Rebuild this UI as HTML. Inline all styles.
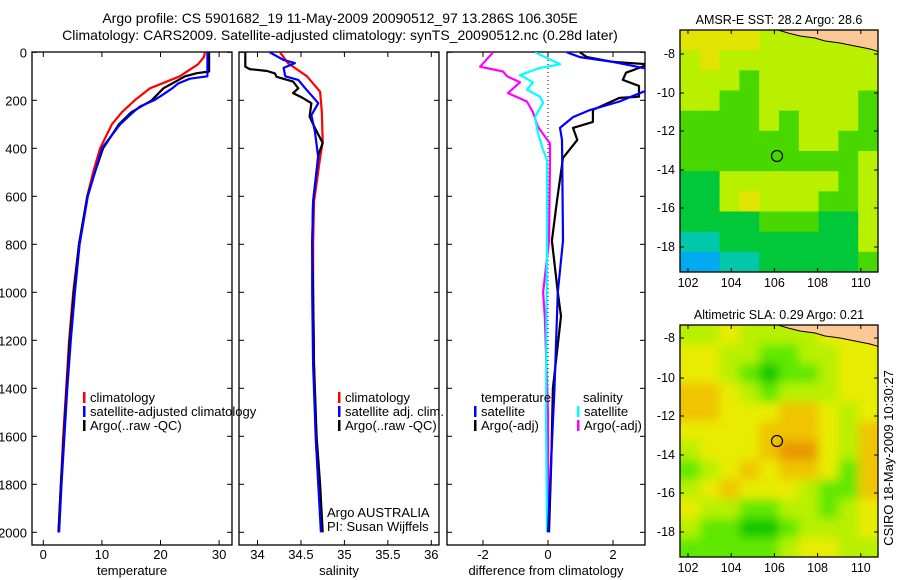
<!DOCTYPE html>
<html><head><meta charset="utf-8">
<style>
body{margin:0;background:#fff;}
svg{display:block;font-family:"Liberation Sans",sans-serif;}
text{fill:#000;}
</style></head>
<body>
<svg id="c" width="900" height="580" viewBox="0 0 900 580">
<defs>
<filter id="blur" x="0" y="0" width="1" height="1"><feGaussianBlur stdDeviation="5"/></filter>
<clipPath id="cp1"><rect x="32" y="52" width="200" height="493"/></clipPath>
<clipPath id="cp2"><rect x="239" y="52" width="200" height="493"/></clipPath>
<clipPath id="cp3"><rect x="447" y="52" width="198" height="493"/></clipPath>
<clipPath id="cpm1"><rect x="680" y="30" width="198" height="242"/></clipPath>
<clipPath id="cpm2"><rect x="680" y="325" width="198" height="232"/></clipPath>
</defs>
<text x="340" y="23" font-size="14" text-anchor="middle">Argo profile: CS 5901682_19 11-May-2009 20090512_97 13.286S 106.305E</text>
<text x="340" y="40" font-size="14" text-anchor="middle">Climatology: CARS2009. Satellite-adjusted climatology: synTS_20090512.nc (0.28d later)</text>
<g id="g1"></g>
<g id="g2"></g>
<g id="g3"></g>
<g id="m1"></g>
<g id="m2"></g>
<text transform="translate(893,458) rotate(-90)" font-size="13" text-anchor="middle">CSIRO 18-May-2009 10:30:27</text>
</svg>
<script>
// ---------- profile data ----------
const depthTicks = [0,200,400,600,800,1000,1200,1400,1600,1800,2000];
const tempTicks = [0,10,20,30];
const salTicks = [34,34.5,35,35.5,36];
const diffTicks = [-2,0,2];

const tClimDepth = [0,20,50,100,150,200,250,300,400,500,600,800,1000,1200,1400,1600,1800,2000];
const tClimVal   = [27.6,27.4,26.4,23.3,18.2,15.6,13.4,11.7,9.7,8.5,7.5,6.1,5.1,4.4,3.9,3.4,3.0,2.6];
const tSatDepth = [0,100,110,130,150,175,200,226,250,300,400,500,600,800,1000,1200,1400,1600,1800,2000];
const tSatVal   = [28.0,28.0,25.0,23.0,22.0,20.5,18.9,16.5,15.3,13.1,10.0,8.8,7.6,6.2,5.4,4.7,4.1,3.6,3.1,2.7];
const tArgoDepth = [0,80,87,100,150,200,250,300,400,500,600,800,1000,1200,1400,1600,1800,2000];
const tArgoVal   = [28.3,28.3,26.2,24.2,20.5,18.5,15.0,12.9,10.2,8.8,7.5,6.1,5.2,4.5,4.0,3.5,3.0,2.6];

const sClimDepth = [0,45,100,164,247,372,440,622,800,1000,1300,1600,1800,2000];
const sClimVal   = [34.26,34.35,34.57,34.72,34.74,34.75,34.72,34.65,34.64,34.64,34.65,34.67,34.7,34.74];
const sSatDepth = [0,32,45,65,100,115,150,212,262,330,440,622,800,1000,1300,1600,1800,2000];
const sSatVal   = [34.14,34.3,34.43,34.3,34.32,34.47,34.55,34.7,34.62,34.66,34.7,34.64,34.63,34.63,34.64,34.67,34.7,34.73];
const sArgoDepth = [0,60,70,78,88,102,122,150,170,190,212,268,315,378,428,622,800,1000,1300,1600,1800,2000];
const sArgoVal   = [33.86,33.86,33.91,34.11,34.2,34.22,34.41,34.47,34.41,34.52,34.62,34.6,34.66,34.75,34.7,34.64,34.63,34.64,34.65,34.68,34.72,34.75];

const dTempSatDepth = [0,20,40,70,155,205,240,270,315,365,785,1000,1400,1800,2000];
const dTempSatVal   = [0.58,0.98,2.0,3.1,3.1,2.2,1.3,0.77,0.37,0.43,0.46,0.3,0.2,0.06,0.0];
const dTempArgoDepth = [0,20,40,50,85,115,140,185,190,240,290,315,365,440,615,785,1000,1100,1400,1700,2000];
const dTempArgoVal   = [0.98,1.2,2.0,3.1,2.4,2.3,2.8,2.8,2.2,1.38,1.38,0.77,0.9,0.46,0.28,0.12,0.3,0.4,0.15,0.1,0.03];
const dSalSatDepth = [0,50,65,95,125,155,185,210,270,335,395,450,785,1500,2000];
const dSalSatVal   = [-0.4,0.37,-0.25,-0.86,-0.46,-0.65,-0.25,-0.15,-0.4,-0.31,-0.18,-0.03,-0.03,-0.06,-0.03];
const dSalArgoDepth = [0,60,80,100,125,170,205,250,310,380,450,785,1000,1100,1500,2000];
const dSalArgoVal   = [-1.69,-2.09,-1.38,-1.26,-0.86,-1.23,-0.65,-0.46,-0.31,0.06,0.06,0.03,-0.15,-0.1,0.0,0.0];

const lonTicks = [102,104,106,108,110];
const latTicks = [-8,-10,-12,-14,-16,-18];

const sstGrid = [
 [0,0,0,0,1,1,1,1,1,1],
 [1,0,1,1,1,1,1,1,1,1],
 [1,1,1,2,1,1,1,1,1,1],
 [1,1,2,2,1,1,1,1,1,2],
 [2,2,2,2,1,2,1,1,1,2],
 [2,2,2,2,2,2,1,1,2,2],
 [2,2,2,2,2,2,2,2,2,1],
 [3,3,1,1,1,1,1,1,2,1],
 [3,3,1,0,1,1,1,2,2,1],
 [3,3,3,3,2,2,2,3,3,1],
 [4,4,3,3,3,3,3,3,3,1],
 [5,5,4,4,3,3,3,3,3,2]
];
const slaGrid = [
 [2,2,3,2,2,2,2,3,3,3],
 [3,3,2,2,1,1,2,2,3,3],
 [3,3,2,1,0,1,1,2,3,3],
 [4,4,3,2,1,2,2,2,3,3],
 [4,4,3,3,3,4,4,3,2,3],
 [3,3,3,3,4,4,4,3,2,4],
 [2,3,3,3,4,5,5,3,2,4],
 [1,2,3,4,3,4,4,3,1,4],
 [2,3,4,3,3,3,2,1,1,4],
 [3,2,2,1,1,2,2,1,2,3],
 [2,1,1,0,0,1,2,2,2,3],
 [1,1,1,1,1,2,3,3,2,2]
];
const sstColors = ['#e0e400','#b8f000','#48d800','#00c838','#00c8a8','#00aaf0'];
const slaColors = ['#10c800','#60e800','#b8f000','#e8ec00','#f0c400','#e89800'];

// ---------- helpers ----------
const NS='http://www.w3.org/2000/svg';
function mk(parent,tag,attrs){const e=document.createElementNS(NS,tag);for(const k in attrs)e.setAttribute(k,attrs[k]);parent.appendChild(e);return e;}
const Y = d => 52.3 + d*0.24;

function panel(g, x0, x1, xs, ticks, fmt, label){
  const fr = mk(g,'rect',{x:x0,y:52,width:x1-x0,height:493,fill:'none',stroke:'#000','stroke-width':1.3});
  
  
  ticks.forEach(t=>{
    const x=xs(t);
    mk(g,'line',{x1:x,x2:x,y1:52,y2:57,stroke:'#000'});
    mk(g,'line',{x1:x,x2:x,y1:545,y2:540,stroke:'#000'});
    const tl=mk(g,'text',{x:x,y:559,'font-size':13,'text-anchor':'middle'});
    tl.textContent=fmt(t);
    
    
  });
  depthTicks.forEach(d=>{
    mk(g,'line',{x1:x0,x2:x0+5,y1:Y(d),y2:Y(d),stroke:'#000'});
    mk(g,'line',{x1:x1,x2:x1-5,y1:Y(d),y2:Y(d),stroke:'#000'});
  });
  const xl=mk(g,'text',{x:(x0+x1)/2,y:575,'font-size':13,'text-anchor':'middle'});
  xl.textContent=label;
  
  
}
function series(g, xs, ds, vs, color, name, clip, w){
  const pts = ds.map((d,i)=>xs(vs[i]).toFixed(1)+','+Y(d).toFixed(1)).join(' ');
  const p = mk(g,'polyline',{points:pts,fill:'none',stroke:color,'stroke-width':w||2.2,'clip-path':'url(#'+clip+')','stroke-linejoin':'round'});
  
  
}
function legend(g,x,y,color,txt,name){
  mk(g,'rect',{x:x,y:y-10,width:2.5,height:11,fill:color});
  const t=mk(g,'text',{x:x+7,y:y,'font-size':13});
  t.textContent=txt;
  
  
}

// ---------- panel 1 temperature ----------
const g1=document.getElementById('g1');
const xT = v => 43.3 + v*5.86;
panel(g1,32,232,xT,tempTicks,String,'temperature');
depthTicks.forEach(d=>{
  const t=mk(g1,'text',{x:27,y:Y(d)+5,'font-size':13,'text-anchor':'end'});
  t.textContent=d;
  
  
});
series(g1,xT,tClimDepth,tClimVal,'#f00','temp-climatology-line','cp1');
series(g1,xT,tArgoDepth,tArgoVal,'#000','temp-argo-line','cp1');
series(g1,xT,tSatDepth,tSatVal,'#00f','temp-satellite-line','cp1');
legend(g1,83,402,'#f00','climatology','legend-climatology');
legend(g1,83,416,'#00f','satellite-adjusted climatology','legend-satellite');
legend(g1,83,430,'#000','Argo(..raw -QC)','legend-argo');

// ---------- panel 2 salinity ----------
const g2=document.getElementById('g2');
const xS = v => 257.5 + (v-34)*86.9;
panel(g2,239,439,xS,salTicks,String,'salinity');
series(g2,xS,sClimDepth,sClimVal,'#f00','sal-climatology-line','cp2');
series(g2,xS,sArgoDepth,sArgoVal,'#000','sal-argo-line','cp2');
series(g2,xS,sSatDepth,sSatVal,'#00f','sal-satellite-line','cp2');
legend(g2,338,402,'#f00','climatology','legend-climatology');
legend(g2,338,416,'#00f','satellite adj. clim.','legend-satellite');
legend(g2,338,430,'#000','Argo(..raw -QC)','legend-argo');
[['Argo AUSTRALIA',517,'argo-australia-label'],['PI: Susan Wijffels',531,'pi-label']].forEach(a=>{
  const t=mk(g2,'text',{x:327,y:a[1],'font-size':13});t.textContent=a[0];
  
  
});

// ---------- panel 3 differences ----------
const g3=document.getElementById('g3');
const xD = v => 548 + v*32.5;
panel(g3,447,645,xD,diffTicks,String,'difference from climatology');
mk(g3,'line',{x1:548,x2:548,y1:52,y2:400,stroke:'#000','stroke-dasharray':'1,3'});
series(g3,xD,dSalArgoDepth,dSalArgoVal,'#f0f','diff-sal-argo-line','cp3');
series(g3,xD,dSalSatDepth,dSalSatVal,'#0ff','diff-sal-satellite-line','cp3');
series(g3,xD,dTempArgoDepth,dTempArgoVal,'#000','diff-temp-argo-line','cp3');
series(g3,xD,dTempSatDepth,dTempSatVal,'#00f','diff-temp-satellite-line','cp3');
[['temperature',481,402,'legend-temp-heading'],['salinity',583,402,'legend-sal-heading']].forEach(a=>{
  const t=mk(g3,'text',{x:a[1],y:a[2],'font-size':13});t.textContent=a[0];
  
  
});
legend(g3,474,416,'#00f','satellite','legend-temp-satellite');
legend(g3,474,430,'#000','Argo(-adj)','legend-temp-argo');
legend(g3,577,416,'#0ff','satellite','legend-sal-satellite');
legend(g3,577,430,'#f0f','Argo(-adj)','legend-sal-argo');

// ---------- maps ----------
function map(gid, top, h, grid, colors, title, clip, blur, latY, circY){
  const g=document.getElementById(gid);
  const gx = mk(g,'g',{'clip-path':'url(#'+clip+')'});
  const inner = mk(gx,'g',blur?{filter:'url(#blur)'}:{});
  const cw=198/grid[0].length, ch=h/grid.length;
  const pad = blur?12:0;
  grid.forEach((row,r)=>row.forEach((v,c)=>{
    const x0=680+c*cw-(c===0?pad:0), y0=top+r*ch-(r===0?pad:0);
    const w=cw+0.6+(c===0||c===row.length-1?pad:0), hh=ch+0.6+(r===0||r===grid.length-1?pad:0);
    const cell=mk(inner,'rect',{x:x0,y:y0,width:w,height:hh,fill:colors[v]});
    
    
  }));
  const land=mk(gx,'path',{d:`M778,${top} L880,${top} L880,${top+22} L870,${top+19} L855,${top+16} L840,${top+13} L825,${top+11} L815,${top+8} L800,${top+6} L788,${top+3} Z`,fill:'#fbc896',stroke:'#000','stroke-width':1});
  
  
  const fr=mk(g,'rect',{x:680,y:top,width:198,height:h,fill:'none',stroke:'#000','stroke-width':1.3});
  
  
  const ci=mk(g,'circle',{cx:777,cy:circY,r:5.5,fill:'none',stroke:'#000','stroke-width':1.2});
  
  
  const tt=mk(g,'text',{x:779,y:top-6,'font-size':12.5,'text-anchor':'middle'});
  tt.textContent=title;
  
  
  latTicks.forEach((l,i)=>{
    const y=latY[i];
    mk(g,'line',{x1:680,x2:684,y1:y,y2:y,stroke:'#000'});
    mk(g,'line',{x1:878,x2:874,y1:y,y2:y,stroke:'#000'});
    const t=mk(g,'text',{x:675,y:y+4,'font-size':12.5,'text-anchor':'end'});
    t.textContent=l;
    
    
  });
  lonTicks.forEach(lo=>{
    const x=688+(lo-102)*21.6;
    mk(g,'line',{x1:x,x2:x,y1:top,y2:top+4,stroke:'#000'});
    mk(g,'line',{x1:x,x2:x,y1:top+h,y2:top+h-4,stroke:'#000'});
    const t=mk(g,'text',{x:x,y:top+h+15,'font-size':12.5,'text-anchor':'middle'});
    t.textContent=lo;
    
    
  });
}
map('m1',30,242,sstGrid,sstColors,'AMSR-E SST: 28.2  Argo: 28.6','cpm1',false,[54,93,131,170,208,247],156);
map('m2',325,232,slaGrid,slaColors,'Altimetric SLA: 0.29  Argo: 0.21','cpm2',true,[338,378,416,455,493,532],441);
</script>
</body></html>
